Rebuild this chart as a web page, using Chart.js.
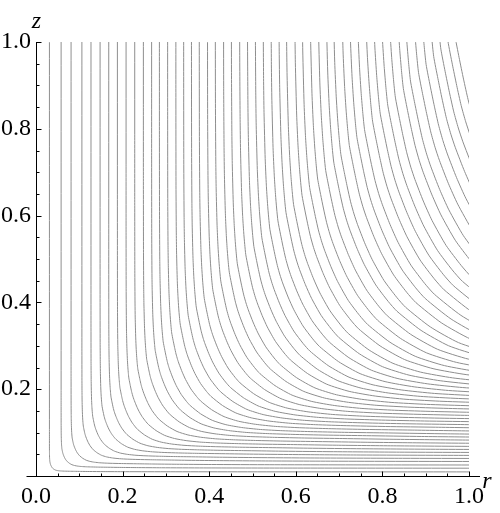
<!DOCTYPE html>
<html>
<head>
<meta charset="utf-8">
<script src="https://cdn.jsdelivr.net/npm/chart.js@4.4.1/dist/chart.umd.min.js"></script>
<style>
  html, body { margin: 0; padding: 0; background: #fff; }
  #wrap { width: 500px; height: 513px; }
</style>
</head>
<body>
<div id="wrap"><canvas id="contours" width="500" height="513"></canvas></div>
<script>
// Contour levels, one per line (read where each line meets z = 1)
const levels = [
    0.031, 0.058, 0.081, 0.106, 0.127, 0.148, 0.168, 0.188, 0.208, 0.228,
    0.248, 0.267, 0.285, 0.304, 0.323, 0.341, 0.359, 0.377, 0.396, 0.414,
    0.433, 0.451, 0.470, 0.488, 0.506, 0.524, 0.542, 0.560, 0.577, 0.596,
    0.613, 0.631, 0.649, 0.667, 0.683, 0.702, 0.719, 0.736, 0.754, 0.771,
    0.788, 0.805, 0.823, 0.839, 0.857, 0.874, 0.891, 0.907, 0.923, 0.938
];

// Shape of the unit contour
// (every line is this curve scaled by its level)
const unitR = [
    1.0, 1.00001, 1.0001, 1.001, 1.003, 1.005, 1.0101, 1.0152, 1.0204, 1.0256,
    1.0309, 1.0417, 1.0526, 1.0638, 1.0753, 1.0870, 1.1111, 1.1364, 1.1765, 1.2195,
    1.25, 1.3333, 1.4286, 1.5385, 1.6667, 1.8182, 2.0, 2.2222, 2.5, 2.8571,
    3.3333, 4.0, 5.0, 6.6667, 10.0, 20.0, 33.333
];
const unitZ = [
    40.0, 3.4539, 2.7634, 2.0744, 1.7480, 1.5975, 1.3955, 1.2791, 1.1975, 1.1350,
    1.0845, 1.028, 0.975, 0.925, 0.884, 0.849, 0.787, 0.731, 0.660, 0.603,
    0.569, 0.503, 0.450, 0.415, 0.392, 0.376, 0.366, 0.359, 0.353, 0.348,
    0.341, 0.334, 0.327, 0.321, 0.315, 0.308, 0.305
];

const tickValues = [0, 0.2, 0.4, 0.6, 0.8, 1.0];
const minorStep = 0.05;

const lineColor = '#8e8e8e';
const serif = "'Liberation Serif', 'Times New Roman', serif";

const datasets = levels.map(level => ({
    data: unitR.map((r, i) => ({ x: r * level, y: unitZ[i] * level })),
    showLine: true,
    borderColor: lineColor,
    borderWidth: 1,
    pointRadius: 0,
    tension: 0.2,
    fill: false,
    clip: 0
}));

// Mathematica-style axes: lines, inward ticks and the r / z labels
const axesPlugin = {
    id: 'axesPlugin',
    afterDraw(chart) {
        const ctx = chart.ctx;
        const xs = chart.scales.x;
        const ys = chart.scales.y;
        const x0 = Math.round(xs.getPixelForValue(0)) + 0.5;
        const y0 = Math.round(ys.getPixelForValue(0)) + 0.5;
        const xEnd = xs.getPixelForValue(1);
        const yTop = ys.getPixelForValue(1);

        ctx.save();
        ctx.strokeStyle = '#000';
        ctx.lineWidth = 1;
        ctx.beginPath();
        ctx.moveTo(x0 - 10, y0);
        ctx.lineTo(xEnd + 11, y0);
        ctx.moveTo(x0, y0);
        ctx.lineTo(x0, yTop);
        ctx.stroke();

        ctx.beginPath();
        for (let k = 1; k <= 20; k++) {
            const v = k * minorStep;
            const len = k % 4 === 0 ? 5 : 3;
            const px = Math.round(xs.getPixelForValue(v)) + 0.5;
            ctx.moveTo(px, y0);
            ctx.lineTo(px, y0 - len);
            const py = Math.round(ys.getPixelForValue(v)) + 0.5;
            ctx.moveTo(x0, py);
            ctx.lineTo(x0 + len, py);
        }
        ctx.stroke();

        ctx.fillStyle = '#000';
        ctx.font = 'italic 24px ' + serif;
        ctx.textAlign = 'center';
        ctx.textBaseline = 'alphabetic';
        ctx.fillText('z', x0, yTop - 14);
        ctx.fillText('r', xEnd + 18, y0 + 11);
        ctx.restore();
    }
};

new Chart(document.getElementById('contours'), {
    type: 'scatter',
    data: { datasets },
    options: {
        responsive: false,
        animation: false,
        events: [],
        layout: { padding: { left: 0, right: 31, top: 42, bottom: 0 } },
        plugins: {
            legend: { display: false },
            tooltip: { enabled: false }
        },
        scales: {
            x: {
                type: 'linear',
                min: 0,
                max: 1,
                afterFit: scale => { scale.height = 37; },
                afterBuildTicks: scale => { scale.ticks = tickValues.map(v => ({ value: v })); },
                grid: { display: false, drawTicks: false },
                border: { display: false },
                ticks: {
                    padding: 6,
                    color: '#000',
                    font: { family: serif, size: 24 },
                    maxRotation: 0,
                    autoSkip: false,
                    callback: v => Number(v).toFixed(1)
                }
            },
            y: {
                type: 'linear',
                min: 0,
                max: 1,
                afterFit: scale => { scale.width = 36; },
                afterBuildTicks: scale => { scale.ticks = tickValues.slice(1).map(v => ({ value: v })); },
                grid: { display: false, drawTicks: false },
                border: { display: false },
                ticks: {
                    padding: 5,
                    color: '#000',
                    font: { family: serif, size: 24 },
                    autoSkip: false,
                    callback: v => Number(v).toFixed(1)
                }
            }
        }
    },
    plugins: [axesPlugin]
});
</script>
</body>
</html>
